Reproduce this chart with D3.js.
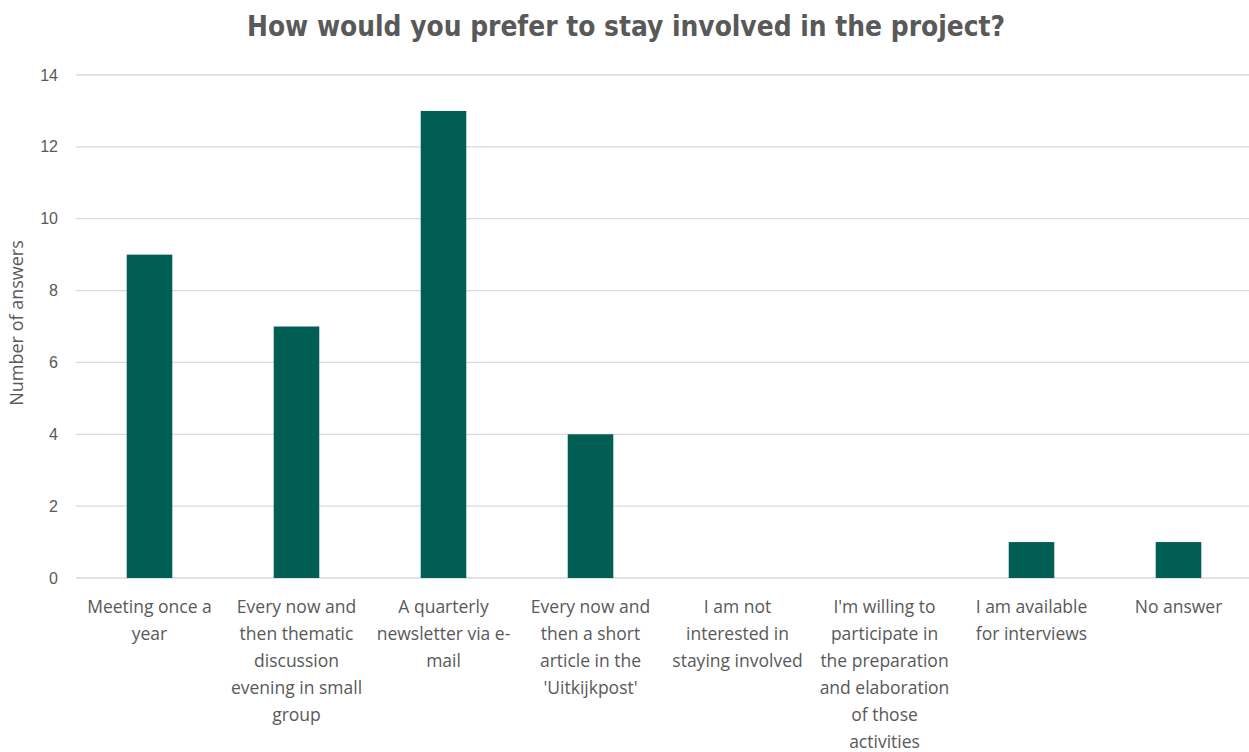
<!DOCTYPE html>
<html>
<head>
<meta charset="utf-8">
<script src="https://cdn.jsdelivr.net/npm/d3@7"></script>
<style>
  body { margin: 0; background: #fff; overflow: hidden; }
  text { fill: #595959; }
</style>
</head>
<body>
<div id="chart"></div>
<script>
const width = 1249,
  height = 752,
  margin = { top: 75, bottom: 174, left: 76, right: -3 };

// data
const categories = [
  ["Meeting once a", "year"],
  ["Every now and", "then thematic", "discussion", "evening in small", "group"],
  ["A quarterly", "newsletter via e-", "mail"],
  ["Every now and", "then a short", "article in the", "'Uitkijkpost'"],
  ["I am not", "interested in", "staying involved"],
  ["I'm willing to", "participate in", "the preparation", "and elaboration", "of those", "activities"],
  ["I am available", "for interviews"],
  ["No answer"]
];
const answers = [9, 7, 13, 4, 0, 0, 1, 1];
const yTicks = [0, 2, 4, 6, 8, 10, 12, 14];

const title = "How would you prefer to stay involved in the project?";
const yLabel = "Number of answers";

const svg = d3.select("#chart")
  .append("svg")
  .attr("width", width)
  .attr("height", height);

const x = d3.scaleBand()
  .domain(d3.range(categories.length))
  .range([margin.left, width - margin.right])
  .paddingInner(0.69)
  .paddingOuter(0.345);

const y = d3.scaleLinear()
  .domain([0, 14])
  .range([height - margin.bottom, margin.top]);

// gridlines
svg.append("g")
  .selectAll("line")
  .data(yTicks)
  .join("line")
  .attr("x1", margin.left)
  .attr("x2", width - margin.right)
  .attr("y1", d => y(d))
  .attr("y2", d => y(d))
  .attr("stroke", "#d9d9d9")
  .attr("stroke-width", 1.3);

// y tick labels
svg.append("g")
  .selectAll("text")
  .data(yTicks)
  .join("text")
  .attr("x", 58)
  .attr("y", d => y(d))
  .attr("dy", "0.35em")
  .attr("text-anchor", "end")
  .style("font-family", "'Liberation Sans', Arial, sans-serif")
  .style("font-size", "16px")
  .text(d => d);

// bars
svg.append("g")
  .selectAll("rect")
  .data(answers)
  .join("rect")
  .attr("x", (d, i) => x(i))
  .attr("width", x.bandwidth())
  .attr("y", d => y(d))
  .attr("height", d => y(0) - y(d))
  .attr("fill", "#005e55");

// category labels
const labels = svg.append("g")
  .selectAll("text")
  .data(categories)
  .join("text")
  .attr("text-anchor", "middle")
  .style("font-family", "'Open Sans', sans-serif")
  .style("font-size", "17.5px")
  .attr("transform", (d, i) => `translate(${x(i) + x.bandwidth() / 2},613)`);

labels.selectAll("tspan")
  .data(d => d)
  .join("tspan")
  .attr("x", 0)
  .attr("y", (d, i) => i * 27)
  .text(d => d);

// axis title
svg.append("text")
  .attr("transform", "translate(23,323) rotate(-90)")
  .attr("text-anchor", "middle")
  .style("font-family", "'Open Sans', sans-serif")
  .style("font-size", "18px")
  .text(yLabel);

// title
svg.append("text")
  .attr("x", 626)
  .attr("y", 36)
  .attr("text-anchor", "middle")
  .attr("textLength", 758)
  .attr("lengthAdjust", "spacingAndGlyphs")
  .style("font-family", "'DejaVu Sans Condensed', 'Liberation Sans Narrow', sans-serif")
  .style("font-weight", "bold")
  .style("font-size", "29px")
  .text(title);
</script>
</body>
</html>
